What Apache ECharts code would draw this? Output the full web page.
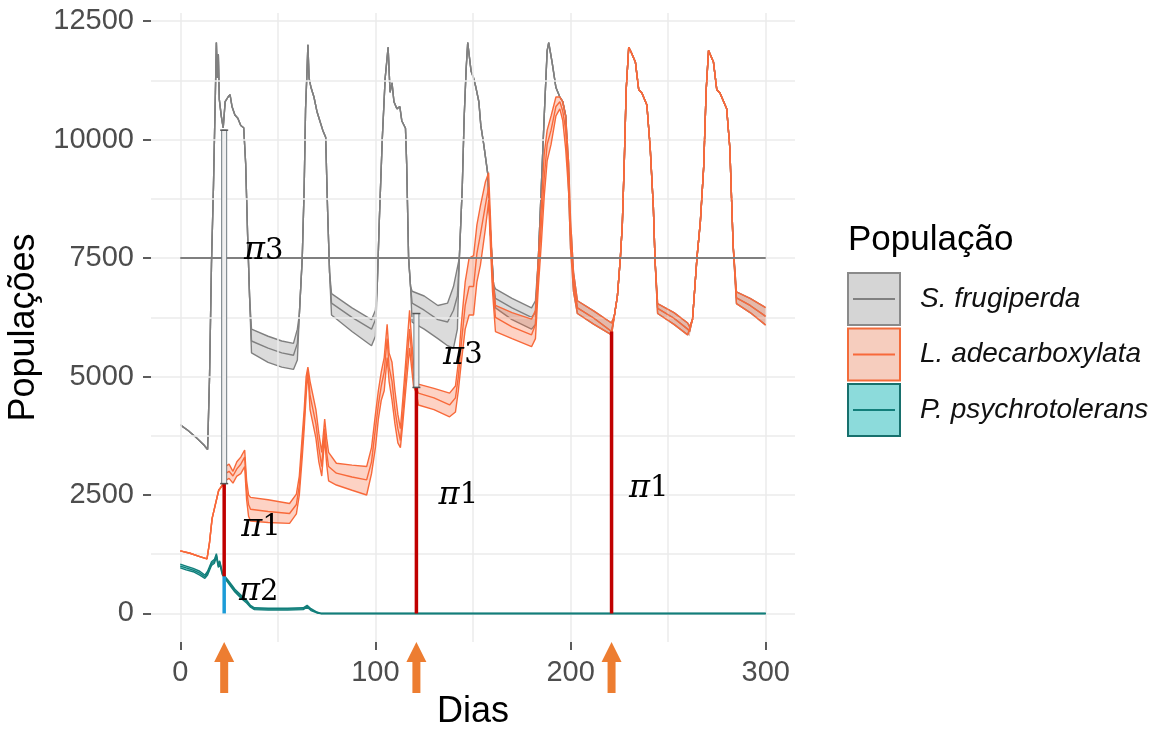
<!DOCTYPE html>
<html>
<head>
<meta charset="utf-8">
<title>Populações</title>
<script src="https://cdn.jsdelivr.net/npm/echarts@6/dist/echarts.min.js"></script>
<style>
  html, body { margin: 0; padding: 0; background: #ffffff; }
  #chart { width: 1172px; height: 731px; }
</style>
</head>
<body>
<div id="chart"></div>
<script>
// ---- axis ticks and grid positions ----
const xTicks = [0, 100, 200, 300];
const yTicks = [0, 2500, 5000, 7500, 10000, 12500];
const xGrid = [0, 50, 100, 150, 200, 250, 300];
const yGrid = [0, 1250, 2500, 3750, 5000, 6250, 7500, 8750, 10000, 11250, 12500];

const legendTitle = 'População';
const speciesNames = ['S. frugiperda', 'L. adecarboxylata', 'P. psychrotolerans'];

// control threshold (horizontal reference line)
const threshold = [[0, 7500], [300, 7500]];

// rows: [day, lower, mean, upper]
const frugiperda = [
  [0, 3980, 3980, 3980], [4, 3860, 3860, 3860], [8, 3720, 3720, 3720], [12, 3560, 3560, 3560],
  [14, 3460, 3460, 3460], [15, 5000, 5000, 5000], [16, 7400, 7400, 7400], [17, 9000, 9000, 9000],
  [18, 11000, 11000, 11000], [18.5, 12050, 12050, 12050], [19, 11300, 11300, 11300],
  [19.5, 11800, 11800, 11800], [20, 10850, 10850, 10850], [21, 10500, 10500, 10500],
  [22, 10250, 10250, 10250], [23, 10800, 10800, 10800], [24.5, 10900, 10900, 10900],
  [25.5, 10950, 10950, 10950], [26.5, 10700, 10700, 10700], [28, 10520, 10520, 10520],
  [29.5, 10450, 10450, 10450], [31, 10300, 10300, 10300], [32.5, 10250, 10250, 10250],
  [33.5, 9500, 9500, 9500], [34.5, 8000, 8000, 8000], [35.5, 6700, 6700, 6700],
  [36.5, 5500, 5750, 6000], [45, 5300, 5600, 5850], [52, 5200, 5500, 5750], [58, 5150, 5450, 5700],
  [60, 5350, 5700, 6000], [61, 6300, 6300, 6300], [62.5, 7500, 7500, 7500], [63.5, 9000, 9000, 9000],
  [64.2, 10650, 10650, 10650], [65, 11500, 11500, 11500], [65.4, 12000, 12000, 12000],
  [66, 11300, 11300, 11300], [67, 11100, 11100, 11100], [68.5, 10900, 10900, 10900],
  [70, 10600, 10600, 10600], [71.5, 10400, 10400, 10400], [73, 10200, 10200, 10200],
  [74.5, 10050, 10050, 10050], [75.5, 8500, 8500, 8500], [76.5, 7200, 7200, 7200],
  [77.5, 6300, 6550, 6750], [88, 5950, 6250, 6450], [98, 5650, 6000, 6200], [100, 5850, 6200, 6400],
  [101, 7000, 7000, 7000], [102, 8300, 8300, 8300], [103.5, 10000, 10000, 10000],
  [105, 11300, 11300, 11300], [106.5, 11950, 11950, 11950], [107.5, 11000, 11000, 11000],
  [108.5, 11200, 11200, 11200], [109.5, 10800, 10800, 10800], [111, 10650, 10650, 10650],
  [112.5, 10700, 10700, 10700], [113.5, 10400, 10400, 10400], [115.4, 10240, 10240, 10240],
  [116, 9500, 9500, 9500], [117, 7500, 7500, 7500], [118, 6900, 6900, 6900],
  [118.8, 6150, 6550, 6800], [125, 6000, 6400, 6700], [132, 5800, 6200, 6500], [137, 5650, 6150, 6550],
  [140, 5600, 6400, 6900], [142, 6000, 6700, 7300], [143, 7500, 7500, 7500], [144.5, 9000, 9000, 9000],
  [145.5, 10500, 10500, 10500], [146.5, 11500, 11500, 11500], [147.3, 12050, 12050, 12050],
  [148, 11800, 11800, 11800], [149, 11450, 11450, 11450], [150.3, 11300, 11300, 11300],
  [151.5, 11100, 11100, 11100], [153, 10800, 10800, 10800], [154, 10300, 10300, 10300],
  [155.5, 9900, 9900, 9900], [157.5, 9300, 9300, 9300], [159, 8000, 8000, 8000],
  [160.5, 6950, 6950, 6950], [161.5, 6450, 6650, 6850], [170, 6200, 6450, 6650],
  [180, 6000, 6250, 6450], [182, 6100, 6350, 6600], [183.5, 7500, 7500, 7500],
  [185, 9000, 9000, 9000], [186.5, 10500, 10500, 10500], [188, 11880, 11880, 11880],
  [188.8, 12050, 12050, 12050], [190.5, 11640, 11640, 11640], [192.5, 11100, 11100, 11100],
  [194.5, 10900, 10900, 10900], [196, 10800, 10800, 10800], [197.5, 10500, 10500, 10500],
  [199, 8900, 9200, 9500], [200, 7700, 8000, 8300], [201.5, 6800, 7000, 7200],
  [203.5, 6330, 6450, 6600], [212, 6100, 6230, 6380], [221, 5880, 5950, 6130],
  [222.5, 6300, 6300, 6300], [224, 6700, 6700, 6700], [225.5, 7500, 7500, 7500],
  [226.5, 8200, 8200, 8200], [227.5, 9500, 9500, 9500], [228.5, 11060, 11060, 11060],
  [229.8, 11950, 11950, 11950], [231, 11850, 11850, 11850], [233.2, 11640, 11640, 11640],
  [234.9, 11060, 11060, 11060], [236.6, 10980, 10980, 10980], [239.1, 10730, 10730, 10730],
  [240.8, 9830, 9830, 9830], [242.4, 8590, 8590, 8590], [243.3, 7440, 7440, 7440],
  [244.6, 6330, 6440, 6540], [253, 6100, 6230, 6350], [260, 5880, 6000, 6130], [261, 5850, 5950, 6050],
  [262.5, 6210, 6210, 6210], [264.8, 7525, 7525, 7525], [266.5, 8265, 8265, 8265],
  [268.2, 9420, 9420, 9420], [269.5, 11060, 11060, 11060], [270.7, 11880, 11880, 11880],
  [273.2, 11640, 11640, 11640], [274.9, 11060, 11060, 11060], [276.6, 10980, 10980, 10980],
  [280, 10650, 10650, 10650], [281.6, 9830, 9830, 9830], [283.3, 7770, 7770, 7770],
  [285, 6540, 6660, 6785], [292, 6350, 6500, 6650], [300, 6085, 6270, 6455]
];

const adecarboxylata = [
  [0, 1320, 1320, 1320], [5, 1270, 1270, 1270], [10, 1200, 1200, 1200], [13.7, 1150, 1150, 1150],
  [15, 1500, 1500, 1500], [16.3, 2000, 2000, 2000], [18, 2300, 2300, 2300], [19.7, 2600, 2600, 2600],
  [21.5, 2700, 2700, 2700], [22.5, 2740, 2740, 2740], [23, 2800, 2950, 3100], [25, 2850, 3000, 3150],
  [27, 2750, 2900, 3000], [29, 2900, 3050, 3200], [31, 2950, 3150, 3300], [33, 3100, 3300, 3450],
  [34, 2400, 2600, 2800], [35, 2050, 2300, 2500], [36, 1950, 2200, 2450], [45, 1920, 2150, 2400],
  [56, 1900, 2110, 2320], [59.5, 2100, 2300, 2520], [61, 2500, 2700, 2900], [62.5, 3300, 3550, 3750],
  [63.5, 3900, 4100, 4300], [64.5, 4600, 4800, 5000], [65.4, 5100, 5150, 5200], [66.5, 4300, 4600, 4900],
  [68, 4000, 4300, 4600], [69.5, 3700, 4000, 4300], [71, 3200, 3500, 3800], [72.5, 2900, 3100, 3400],
  [74, 3700, 3900, 4100], [75, 3150, 3400, 3700], [76, 2800, 3100, 3400], [80, 2710, 2960, 3170],
  [88, 2600, 2880, 3130], [95.5, 2500, 2820, 3100], [98, 2950, 3200, 3500], [100, 3500, 3900, 4200],
  [101.5, 4100, 4400, 4700], [103, 4500, 4800, 5100], [104.5, 4700, 5100, 5400], [106, 5400, 5800, 6100],
  [107, 4900, 5200, 5500], [108.5, 4500, 4900, 5300], [110, 4000, 4300, 4700], [111.5, 3600, 3900, 4200],
  [112.8, 3500, 3650, 3900], [114, 4000, 4200, 4500], [115.5, 4700, 5000, 5300], [117.5, 5600, 6000, 6400],
  [118.5, 5200, 5500, 5800], [119.5, 4800, 5000, 5300], [121, 4650, 4750, 4850], [122, 4400, 4650, 4850],
  [130, 4300, 4550, 4750], [138, 4150, 4400, 4650], [141, 4250, 4550, 4800], [142.5, 4700, 5000, 5300],
  [144, 5300, 5700, 6100], [146, 6000, 6500, 7000], [148, 6300, 6900, 7500], [150.3, 6300, 6900, 7550],
  [152, 7000, 7600, 8200], [153.8, 7350, 8000, 8600], [156.3, 8100, 8600, 9100], [158, 8700, 9000, 9300],
  [159, 7700, 8000, 8300], [160, 6800, 7000, 7200], [161.5, 5950, 6250, 6500], [170, 5800, 6050, 6350],
  [180, 5630, 5880, 6210], [182, 5800, 6100, 6400], [183.5, 6900, 7200, 7500], [185, 7800, 8200, 8600],
  [186.5, 8800, 9200, 9700], [188, 9550, 9900, 10200], [190, 9900, 10200, 10500], [192.5, 10500, 10700, 10900],
  [194.5, 10650, 10800, 10900], [196, 10400, 10600, 10800], [197.5, 9800, 10200, 10500],
  [199, 8900, 9200, 9500], [200, 7700, 8000, 8300], [201.5, 6800, 7000, 7200],
  [203.5, 6330, 6450, 6600], [212, 6100, 6230, 6380], [221, 5880, 5950, 6130],
  [222.5, 6300, 6300, 6300], [224, 6700, 6700, 6700], [225.5, 7500, 7500, 7500],
  [226.5, 8200, 8200, 8200], [227.5, 9500, 9500, 9500], [228.5, 11060, 11060, 11060],
  [229.8, 11950, 11950, 11950], [231, 11850, 11850, 11850], [233.2, 11640, 11640, 11640],
  [234.9, 11060, 11060, 11060], [236.6, 10980, 10980, 10980], [239.1, 10730, 10730, 10730],
  [240.8, 9830, 9830, 9830], [242.4, 8590, 8590, 8590], [243.3, 7440, 7440, 7440],
  [244.6, 6330, 6440, 6540], [253, 6100, 6230, 6350], [260, 5880, 6000, 6130], [261, 5850, 5950, 6050],
  [262.5, 6210, 6210, 6210], [264.8, 7525, 7525, 7525], [266.5, 8265, 8265, 8265],
  [268.2, 9420, 9420, 9420], [269.5, 11060, 11060, 11060], [270.7, 11880, 11880, 11880],
  [273.2, 11640, 11640, 11640], [274.9, 11060, 11060, 11060], [276.6, 10980, 10980, 10980],
  [280, 10650, 10650, 10650], [281.6, 9830, 9830, 9830], [283.3, 7770, 7770, 7770],
  [285, 6540, 6660, 6785], [292, 6350, 6500, 6650], [300, 6085, 6270, 6455]
];

const psychrotolerans = [
  [0, 960, 1000, 1040], [3, 920, 960, 1000], [6.6, 880, 915, 950], [10, 810, 850, 890],
  [12.6, 740, 775, 810], [14, 810, 850, 890], [16, 1010, 1050, 1090], [17.5, 1060, 1100, 1140],
  [18.5, 1200, 1230, 1260], [19.5, 970, 1000, 1030], [20.2, 1050, 1080, 1110], [21.5, 820, 850, 880],
  [22.5, 760, 780, 800], [24, 670, 700, 730], [25.5, 590, 620, 650], [28, 450, 480, 510],
  [30, 370, 400, 430], [32, 290, 320, 350], [34, 220, 250, 280], [36, 130, 150, 170],
  [38, 80, 100, 120], [45, 70, 90, 110], [55, 70, 90, 110], [63, 80, 100, 120],
  [65, 130, 150, 170], [67, 60, 80, 100], [70, 10, 20, 30], [72, 0, 0, 0], [300, 0, 0, 0]
];

// release events: [day, from, to]
const releaseDays = [22.5, 121, 221];
const pi1Bars = [[22.5, 780, 2740], [121, 0, 4770], [221, 0, 5950]];
const pi2Bars = [[22.5, 0, 780]];
const pi3Bars = [[22.5, 2740, 10200], [121, 4770, 6330]];
// annotation anchors: [day, value, index]
const piLabels = [
  [42.8, 7650, '3'], [41.3, 1820, '1'], [40.2, 450, '2'],
  [144.8, 5440, '3'], [142.5, 2480, '1'], [240.1, 2630, '1']
];

// ---- styling ----
const FONT = '"Liberation Sans", Arial, sans-serif';
const palette = [
  { line: '#808080', fill: 'rgba(127,127,127,0.28)', key: '#D5D5D5', keyBorder: '#8A8A8A' },
  { line: '#F8693A', fill: 'rgba(249,107,58,0.30)', key: '#F6CDBE', keyBorder: '#F26B3A' },
  { line: '#127E7A', fill: 'rgba(0,178,178,0.45)', key: '#8CDBDB', keyBorder: '#17706D' }
];
const bands = [frugiperda, adecarboxylata, psychrotolerans];

function ribbon(rows, fill, z) {
  return {
    type: 'custom', z: z, silent: true,
    data: [[rows[0][0], rows[0][2]]],
    encode: { x: 0, y: 1 },
    renderItem: function (params, api) {
      const upper = rows.map(r => api.coord([r[0], r[3]]));
      const lower = rows.slice().reverse().map(r => api.coord([r[0], r[1]]));
      return {
        type: 'polygon',
        shape: { points: upper.concat(lower) },
        style: { fill: fill, stroke: null, lineWidth: 0 }
      };
    }
  };
}

function curve(rows, idx, color, z, name) {
  return {
    type: 'line', name: name, z: z, silent: true,
    data: rows.map(r => [r[0], r[idx]]),
    symbol: 'none', showSymbol: false,
    lineStyle: { color: color, width: 1.4 },
    itemStyle: { color: color }
  };
}

function segmentBars(rows, color, width, z) {
  return {
    type: 'custom', z: z, silent: true,
    data: rows, encode: { x: 0, y: [1, 2] },
    renderItem: function (params, api) {
      const a = api.coord([api.value(0), api.value(1)]);
      const b = api.coord([api.value(0), api.value(2)]);
      return {
        type: 'line',
        shape: { x1: a[0], y1: a[1], x2: b[0], y2: b[1] },
        style: { stroke: color, lineWidth: width }
      };
    }
  };
}

const series = [];

// background grid lines
series.push({
  type: 'line', z: 0, silent: true, data: [],
  markLine: {
    silent: true, symbol: 'none', animation: false,
    label: { show: false },
    lineStyle: { color: '#EBEBEB', width: 1.5, type: 'solid' },
    data: xGrid.map(v => ({ xAxis: v })).concat(yGrid.map(v => ({ yAxis: v })))
  }
});

bands.forEach((rows, i) => {
  const base = 2 + i * 4;
  series.push(ribbon(rows, palette[i].fill, base));
  series.push(curve(rows, 1, palette[i].line, base + 1, speciesNames[i]));
  series.push(curve(rows, 3, palette[i].line, base + 1, speciesNames[i]));
  series.push(curve(rows, 2, palette[i].line, base + 1, speciesNames[i]));
});

// threshold, drawn over the ribbons
series.push({
  type: 'line', z: 20, silent: true, data: threshold, symbol: 'none',
  lineStyle: { color: '#7F7F7F', width: 2 }
});

// release bars
series.push(segmentBars(pi1Bars, '#C00000', 3.5, 30));
series.push(segmentBars(pi2Bars, '#1C9CD8', 3.5, 30));
series.push({
  type: 'custom', z: 31, silent: true,
  data: pi3Bars, encode: { x: 0, y: [1, 2] },
  renderItem: function (params, api) {
    const top = api.coord([api.value(0), api.value(2)]);
    const bot = api.coord([api.value(0), api.value(1)]);
    const w = 5;
    return {
      type: 'group',
      children: [
        { type: 'rect', shape: { x: top[0] - w / 2, y: top[1], width: w, height: bot[1] - top[1] },
          style: { fill: '#EFEFEF', stroke: '#6E7A80', lineWidth: 1 } },
        { type: 'line', shape: { x1: top[0] - 4, y1: top[1], x2: top[0] + 4, y2: top[1] },
          style: { stroke: '#555555', lineWidth: 1.5 } },
        { type: 'line', shape: { x1: bot[0] - 4, y1: bot[1], x2: bot[0] + 4, y2: bot[1] },
          style: { stroke: '#555555', lineWidth: 1.5 } }
      ]
    };
  }
});

// π annotations
series.push({
  type: 'custom', z: 40, silent: true,
  data: piLabels.map(r => [r[0], r[1]]), encode: { x: 0, y: 1 },
  renderItem: function (params, api) {
    const p = api.coord([api.value(0), api.value(1)]);
    return {
      type: 'text', x: p[0], y: p[1],
      style: {
        text: '{p|π}{d|' + piLabels[params.dataIndex][2] + '}',
        rich: {
          p: { fontFamily: '"DejaVu Serif"', fontStyle: 'italic', fontSize: 32, fill: '#000' },
          d: { fontFamily: '"DejaVu Serif"', fontSize: 29, fill: '#000' }
        },
        align: 'center', verticalAlign: 'middle',
        textAlign: 'center', textVerticalAlign: 'middle'
      }
    };
  }
});

const chart = echarts.init(document.getElementById('chart'), null, { renderer: 'canvas' });

chart.setOption({
  animation: false,
  backgroundColor: '#ffffff',
  grid: { left: 151, right: 377, top: 13, bottom: 89, containLabel: false, outerBoundsMode: 'none' },
  xAxis: {
    type: 'value', min: -15, max: 315,
    name: 'Dias', nameLocation: 'middle', nameGap: 52,
    nameTextStyle: { fontFamily: FONT, fontSize: 36, color: '#000' },
    axisLine: { show: false, onZero: false },
    axisTick: { show: true, customValues: xTicks, length: 8, lineStyle: { color: '#333333', width: 1.6 } },
    axisLabel: { customValues: xTicks, margin: 16, fontFamily: FONT, fontSize: 29, color: '#4D4D4D',
                 formatter: v => String(v) },
    splitLine: { show: false }
  },
  yAxis: {
    type: 'value', min: -603, max: 12673,
    name: 'Populações', nameLocation: 'middle', nameGap: 100, nameRotate: 90,
    nameTextStyle: { fontFamily: FONT, fontSize: 36, color: '#000' },
    axisLine: { show: false, onZero: false },
    axisTick: { show: true, customValues: yTicks, length: 8, lineStyle: { color: '#333333', width: 1.6 } },
    axisLabel: { customValues: yTicks, margin: 17, fontFamily: FONT, fontSize: 29, color: '#4D4D4D',
                 formatter: v => String(v) },
    splitLine: { show: false }
  },
  series: series
});

// ---- arrows under the x axis and the legend ----
const graphics = [];
const axisY = chart.convertToPixel({ yAxisIndex: 0 }, -603);
releaseDays.forEach(d => {
  const x = chart.convertToPixel({ xAxisIndex: 0 }, d);
  const tip = axisY, headBase = axisY + 20, tail = axisY + 51;
  graphics.push({
    type: 'polygon', silent: true,
    shape: { points: [[x, tip], [x + 10, headBase], [x + 4, headBase], [x + 4, tail],
                      [x - 4, tail], [x - 4, headBase], [x - 10, headBase]] },
    style: { fill: '#ED7D31' }
  });
});

const legendLeft = 848, keyTop = 273, keyStep = 55.5, keySize = 52;
graphics.push({
  type: 'text', x: legendLeft, y: 240, silent: true,
  style: { text: legendTitle, font: '35px ' + FONT, fill: '#000',
           textVerticalAlign: 'middle', verticalAlign: 'middle' }
});
speciesNames.forEach((name, i) => {
  const top = keyTop + i * keyStep;
  graphics.push({
    type: 'rect', silent: true,
    shape: { x: legendLeft, y: top, width: keySize, height: keySize },
    style: { fill: palette[i].key, stroke: palette[i].keyBorder, lineWidth: 2 }
  });
  graphics.push({
    type: 'line', silent: true,
    shape: { x1: legendLeft + 5, y1: top + keySize / 2, x2: legendLeft + keySize - 5, y2: top + keySize / 2 },
    style: { stroke: palette[i].line, lineWidth: 2 }
  });
  graphics.push({
    type: 'text', x: legendLeft + 72, y: top + keySize / 2, silent: true,
    style: { text: name, font: 'italic 28px ' + FONT, fill: '#111',
             textVerticalAlign: 'middle', verticalAlign: 'middle' }
  });
});

chart.setOption({ graphic: graphics });
</script>
</body>
</html>
